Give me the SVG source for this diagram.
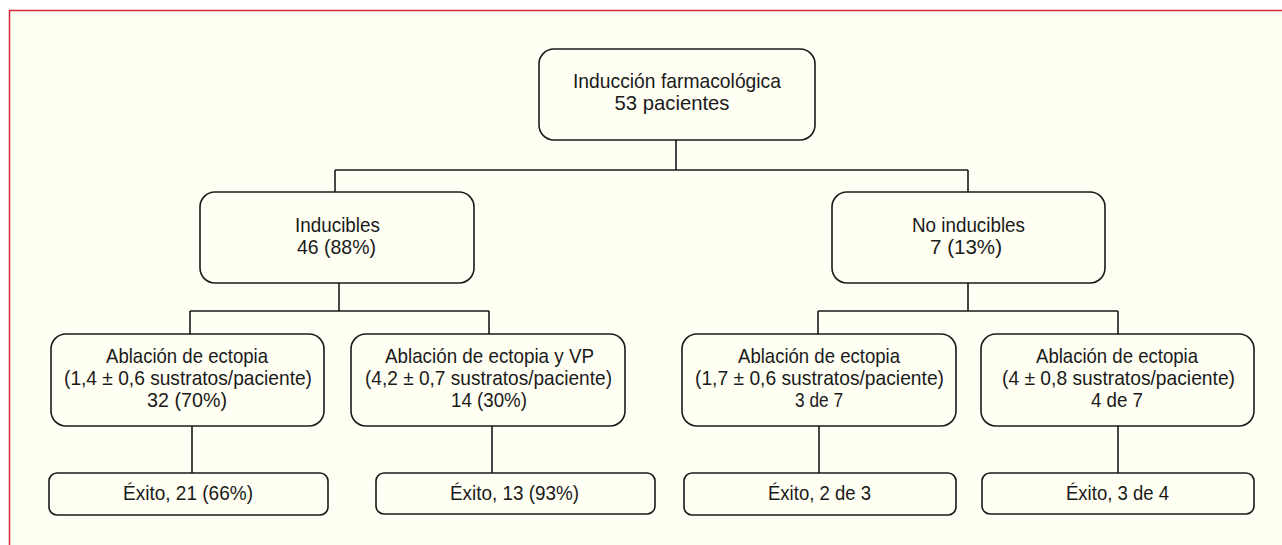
<svg xmlns="http://www.w3.org/2000/svg" width="1282" height="545" viewBox="0 0 1282 545">
<style>
.bg{fill:#ffffff}
.frame{fill:#fffff3;stroke:#d52a3d;stroke-width:1.5}
.box{fill:#fffff3;stroke:#1a1a1a;stroke-width:1.6}
.conn{fill:none;stroke:#1a1a1a;stroke-width:1.6}
text{font-family:"Liberation Sans",Arial,sans-serif;font-size:21px;fill:#1a1a1a;text-anchor:middle}
</style>
<rect class="bg" x="0" y="0" width="1282" height="545"/>
<rect class="frame" x="9.5" y="10.5" width="1290" height="560"/>
<g id="connectors">
<path class="conn" d="M676 140V170M335 170H968M335 170V192M968 170V192"/>
<path class="conn" d="M339 283V311M190 311H489M190 311V334M489 311V334"/>
<path class="conn" d="M968 283V311M818 311H1118M818 311V334M1118 311V334"/>
<path class="conn" d="M192 426V473M492 426V473M819 426V473M1118 426V473"/>
</g>
<g id="n-induccion">
<rect class="box" x="539" y="49" width="276" height="91" rx="15"/>
<text x="677" y="88" textLength="208" lengthAdjust="spacingAndGlyphs">Inducción farmacológica</text>
<text x="672" y="109.5" textLength="115" lengthAdjust="spacingAndGlyphs">53 pacientes</text>
</g>
<g id="n-inducibles">
<rect class="box" x="200" y="192" width="274" height="91" rx="15"/>
<text x="337.5" y="232" textLength="85" lengthAdjust="spacingAndGlyphs">Inducibles</text>
<text x="336.5" y="253.5" textLength="79" lengthAdjust="spacingAndGlyphs">46 (88%)</text>
</g>
<g id="n-noinducibles">
<rect class="box" x="832" y="192" width="273" height="91" rx="15"/>
<text x="968.5" y="232" textLength="113" lengthAdjust="spacingAndGlyphs">No inducibles</text>
<text x="966" y="253.5" textLength="72" lengthAdjust="spacingAndGlyphs">7 (13%)</text>
</g>
<g id="n-abl1">
<rect class="box" x="51" y="334" width="273" height="92" rx="15"/>
<text x="187" y="363" textLength="162" lengthAdjust="spacingAndGlyphs">Ablación de ectopia</text>
<text x="188" y="385" textLength="248" lengthAdjust="spacingAndGlyphs">(1,4 ± 0,6 sustratos/paciente)</text>
<text x="187" y="406.5" textLength="80" lengthAdjust="spacingAndGlyphs">32 (70%)</text>
</g>
<g id="n-abl2">
<rect class="box" x="351" y="334" width="274" height="92" rx="15"/>
<text x="489.5" y="363" textLength="209" lengthAdjust="spacingAndGlyphs">Ablación de ectopia y VP</text>
<text x="488.5" y="385" textLength="247" lengthAdjust="spacingAndGlyphs">(4,2 ± 0,7 sustratos/paciente)</text>
<text x="489" y="406.5" textLength="76" lengthAdjust="spacingAndGlyphs">14 (30%)</text>
</g>
<g id="n-abl3">
<rect class="box" x="682" y="334" width="274" height="92" rx="15"/>
<text x="819" y="363" textLength="162" lengthAdjust="spacingAndGlyphs">Ablación de ectopia</text>
<text x="819.5" y="385" textLength="249" lengthAdjust="spacingAndGlyphs">(1,7 ± 0,6 sustratos/paciente)</text>
<text x="819" y="406.5" textLength="48" lengthAdjust="spacingAndGlyphs">3 de 7</text>
</g>
<g id="n-abl4">
<rect class="box" x="981" y="334" width="273" height="92" rx="15"/>
<text x="1117" y="363" textLength="162" lengthAdjust="spacingAndGlyphs">Ablación de ectopia</text>
<text x="1118.5" y="385" textLength="233" lengthAdjust="spacingAndGlyphs">(4 ± 0,8 sustratos/paciente)</text>
<text x="1117" y="406.5" textLength="52" lengthAdjust="spacingAndGlyphs">4 de 7</text>
</g>
<g id="n-exito1">
<rect class="box" x="49" y="473" width="279" height="42" rx="8"/>
<text x="188" y="499.5" textLength="130" lengthAdjust="spacingAndGlyphs">Éxito, 21 (66%)</text>
</g>
<g id="n-exito2">
<rect class="box" x="376" y="473" width="279" height="41" rx="8"/>
<text x="514.5" y="499.5" textLength="129" lengthAdjust="spacingAndGlyphs">Éxito, 13 (93%)</text>
</g>
<g id="n-exito3">
<rect class="box" x="684" y="473" width="272" height="42" rx="8"/>
<text x="819.5" y="499.5" textLength="103" lengthAdjust="spacingAndGlyphs">Éxito, 2 de 3</text>
</g>
<g id="n-exito4">
<rect class="box" x="982" y="473" width="272" height="41" rx="8"/>
<text x="1117.5" y="499.5" textLength="103" lengthAdjust="spacingAndGlyphs">Éxito, 3 de 4</text>
</g>
</svg>
